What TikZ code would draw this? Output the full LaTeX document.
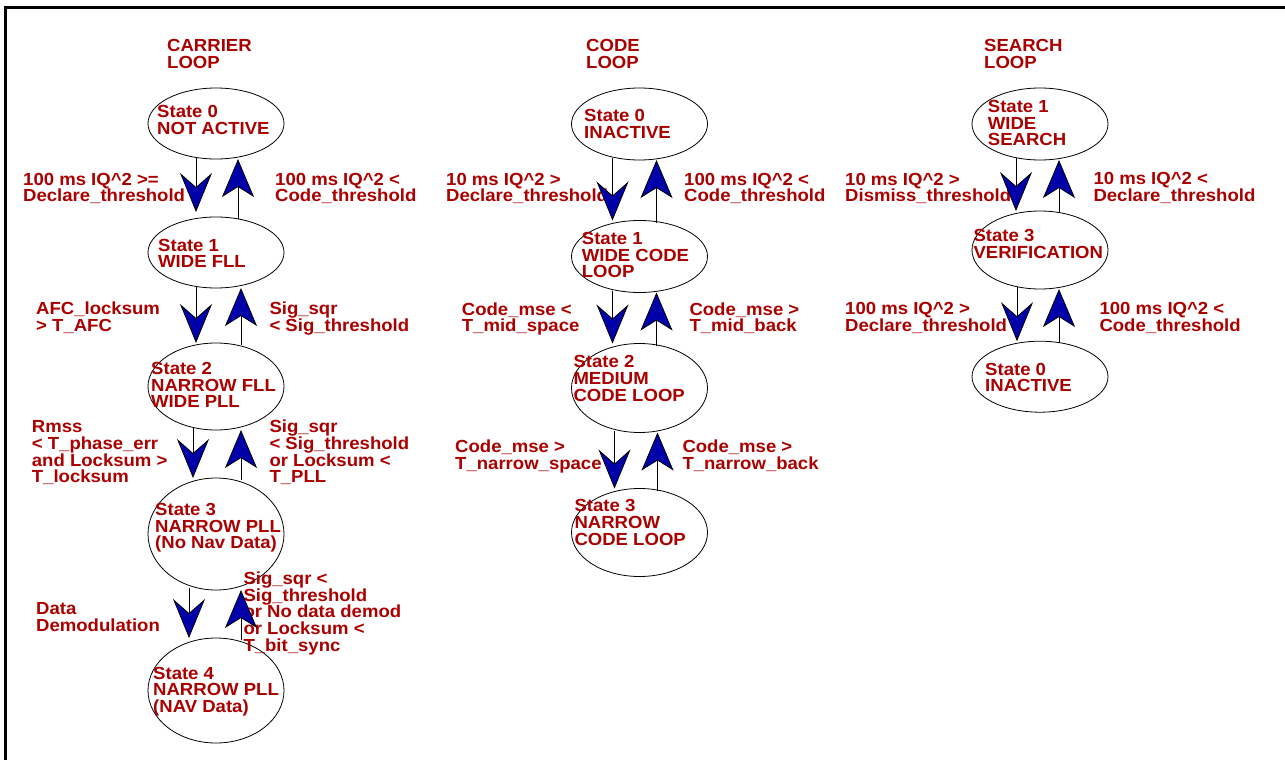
\documentclass[tikz,border=0pt]{standalone}
\usepackage{fontspec}
\setmainfont{Liberation Sans}[FakeStretch=1.06]
\usetikzlibrary{arrows.meta,shapes.geometric}
\definecolor{txtred}{RGB}{170,0,0}
\definecolor{arrblue}{RGB}{0,0,170}
\tikzset{
  stell/.style={ellipse, draw=black, line width=0.8pt, minimum width=136pt, inner sep=0pt, outer sep=0pt},
  lbl/.style={font=\fontsize{17.5}{16.7}\selectfont\bfseries, text=txtred, align=left, anchor=base west, inner sep=0pt},
  arrd/.style={draw=black, line width=0.8pt, shorten <=-2pt,
    -{Stealth[length=39pt, width=32pt, inset=14pt, fill=arrblue]}},
  arru/.style={draw=black, line width=0.8pt, shorten <=-2pt,
    -{Stealth[length=38pt, width=32pt, inset=10pt, fill=arrblue]}}
}
\newcommand{\sq}{\textasciicircum}
\begin{document}
\begin{tikzpicture}[x=1pt,y=-1pt]
\useasboundingbox (0,0) rectangle (1285,760);
\fill[white] (0,0) rectangle (1285,760);
\draw[line width=3.2pt] (5.6,760) -- (5.6,7.5) -- (1285,7.5);

% (label positions are the baseline of the LAST line)
% ---------- titles ----------
\node[lbl] (tc) at (167,68.4) {CARRIER\\LOOP};
\node[lbl] (td) at (586,68.4) {CODE\\LOOP};
\node[lbl] (ts) at (984,68.4) {SEARCH\\LOOP};

% ---------- carrier loop ----------
\node[stell, minimum height=71pt]  (c0) at (216,123.5) {};
\node[stell, minimum height=71pt]  (c1) at (216,252.5) {};
\node[stell, minimum height=87pt]  (c2) at (216,386.5) {};
\node[stell, minimum height=112pt] (c3) at (216,534) {};
\node[stell, minimum height=105pt] (c4) at (216,690.5) {};
\node[lbl] (c0t) at (157,134.4) {State 0\\NOT ACTIVE};
\node[lbl] (c1t) at (158,267.7) {State 1\\WIDE FLL};
\node[lbl] (c2t) at (151,407.7) {State 2\\NARROW FLL\\WIDE PLL};
\node[lbl] (c3t) at (155,548.9) {State 3\\NARROW PLL\\(No Nav Data)};
\node[lbl] (c4t) at (153,712.4) {State 4\\NARROW PLL\\(NAV Data)};

\node[lbl] (l01) at (23,201.7) {100 ms IQ\sq2 >=\\Declare\_threshold};
\node[lbl] (l10) at (275,201.7) {100 ms IQ\sq2 <\\Code\_threshold};
\node[lbl] (l12) at (36,331) {AFC\_locksum\\> T\_AFC};
\node[lbl] (l21) at (269.3,331) {Sig\_sqr\\< Sig\_threshold};
\node[lbl] (l23) at (31.7,482.8) {Rmss\\< T\_phase\_err\\and Locksum >\\T\_locksum};
\node[lbl] (l32) at (269.3,482.8) {Sig\_sqr\\< Sig\_threshold\\or Locksum <\\T\_PLL};
\node[lbl] (l34) at (36,631) {Data\\Demodulation};
\node[lbl] (l43) at (243.3,651.1) {Sig\_sqr <\\Sig\_threshold\\or No data demod\\or Locksum <\\T\_bit\_sync};

\draw[arrd, shorten >=5pt] ([xshift=-20pt]c0.south) -- ([xshift=-20pt]c1.north);
\draw[arru] ([xshift=22pt]c1.north) -- ([xshift=22pt]c0.south);
\draw[arrd] ([xshift=-20pt]c1.south) -- ([xshift=-20pt]c2.north);
\draw[arru] ([xshift=25pt]c2.north) -- ([xshift=25pt]c1.south);
\draw[arrd] ([xshift=-23pt]c2.south) -- ([xshift=-23pt]c3.north);
\draw[arru] ([xshift=25pt]c3.north) -- ([xshift=25pt]c2.south);
\draw[arrd] ([xshift=-27pt]c3.south) -- ([xshift=-27pt]c4.north);
\draw[arru] ([xshift=25pt]c4.north) -- ([xshift=25pt]c3.south);

% ---------- code loop ----------
\node[stell, minimum height=72pt] (d0) at (639.5,124) {};
\node[stell, minimum height=72pt] (d1) at (639.5,256.5) {};
\node[stell, minimum height=89pt] (d2) at (639.5,388) {};
\node[stell, minimum height=88pt] (d3) at (639.5,532.5) {};
\node[lbl] (d0t) at (584,138.4) {State 0\\INACTIVE};
\node[lbl] (d1t) at (581.7,277.7) {State 1\\WIDE CODE\\LOOP};
\node[lbl] (d2t) at (573.3,401.1) {State 2\\MEDIUM\\CODE LOOP};
\node[lbl] (d3t) at (574.3,545.1) {State 3\\NARROW\\CODE LOOP};

\node[lbl] (m01) at (446,201.7) {10 ms IQ\sq2 >\\Declare\_threshold};
\node[lbl] (m10) at (684,201.7) {100 ms IQ\sq2 <\\Code\_threshold};
\node[lbl] (m12) at (461.7,331.7) {Code\_mse <\\T\_mid\_space};
\node[lbl] (m21) at (689.3,331.7) {Code\_mse >\\T\_mid\_back};
\node[lbl] (m23) at (455,469) {Code\_mse >\\T\_narrow\_space};
\node[lbl] (m32) at (682.3,469) {Code\_mse >\\T\_narrow\_back};

\draw[arrd] ([xshift=-27pt]d0.south) -- ([xshift=-27pt]d1.north);
\draw[arru] ([xshift=17pt]d1.north) -- ([xshift=17pt]d0.south);
\draw[arrd] ([xshift=-27pt]d1.south) -- ([xshift=-27pt]d2.north);
\draw[arru] ([xshift=17pt]d2.north) -- ([xshift=17pt]d1.south);
\draw[arrd] ([xshift=-25pt]d2.south) -- ([xshift=-25pt]d3.north);
\draw[arru] ([xshift=18pt]d3.north) -- ([xshift=18pt]d2.south);

% ---------- search loop ----------
\node[stell, minimum height=72pt] (s1) at (1040,124) {};
\node[stell, minimum height=78pt] (s3) at (1040,250) {};
\node[stell, minimum height=71pt] (s0) at (1040,376.7) {};
\node[lbl] (s1t) at (987.7,145.7) {State 1\\WIDE\\SEARCH};
\node[lbl] (s3t) at (973.3,258.4) {State 3\\VERIFICATION};
\node[lbl] (s0t) at (985,391.7) {State 0\\INACTIVE};

\node[lbl] (n13) at (845,201.7) {10 ms IQ\sq2 >\\Dismiss\_threshold};
\node[lbl] (n31) at (1093.3,201) {10 ms IQ\sq2 <\\Declare\_threshold};
\node[lbl] (n30) at (845,331) {100 ms IQ\sq2 >\\Declare\_threshold};
\node[lbl] (n03) at (1099.3,331) {100 ms IQ\sq2 <\\Code\_threshold};

\draw[arrd] ([xshift=-24pt]s1.south) -- ([xshift=-24pt]s3.north);
\draw[arru] ([xshift=19pt]s3.north) -- ([xshift=19pt]s1.south);
\draw[arrd] ([xshift=-23pt]s3.south) -- ([xshift=-23pt]s0.north);
\draw[arru] ([xshift=19pt]s0.north) -- ([xshift=19pt]s3.south);
\end{tikzpicture}
\end{document}
